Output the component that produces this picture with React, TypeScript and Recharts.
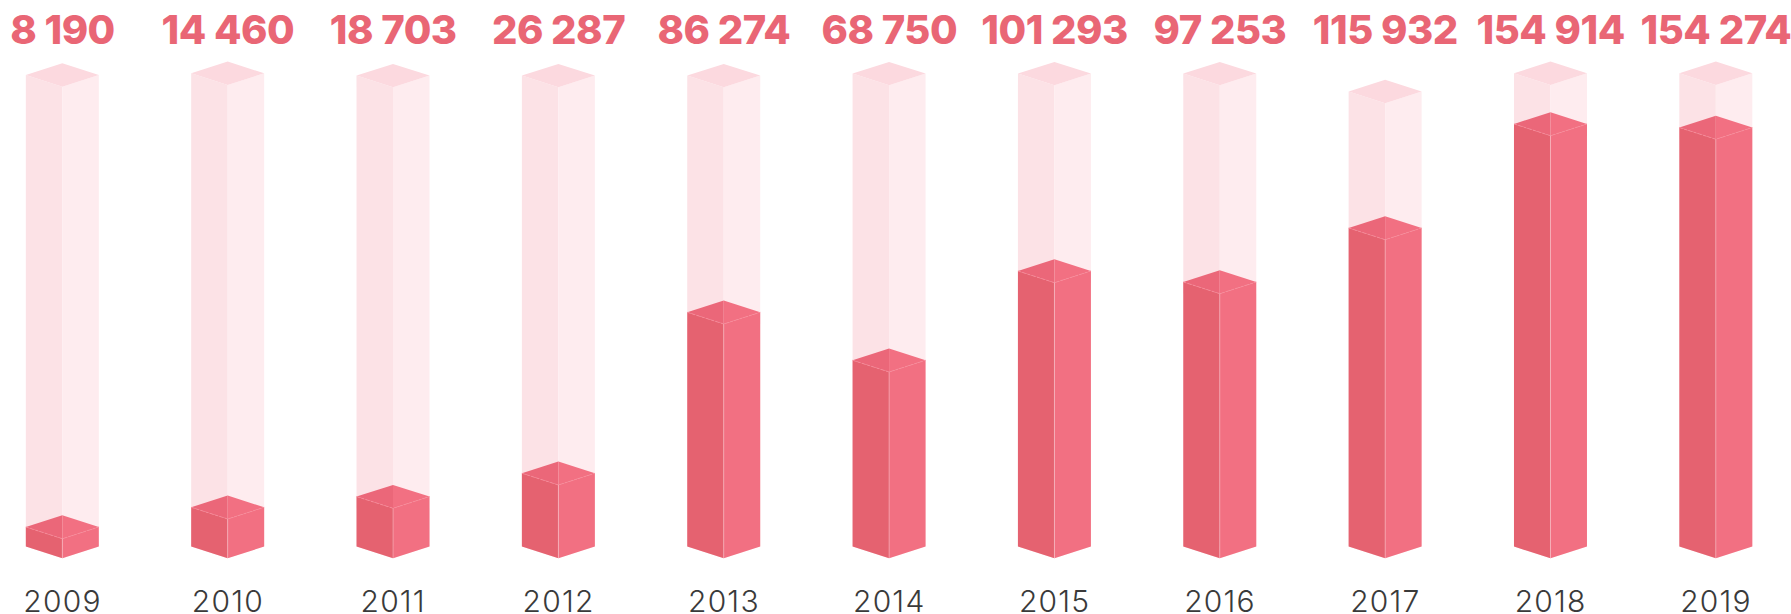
import React from "react";
import { ComposedChart, Bar, XAxis, YAxis } from "recharts";

const years = ["2009", "2010", "2011", "2012", "2013", "2014", "2015", "2016", "2017", "2018", "2019"];
const totals = [8190, 14460, 18703, 26287, 86274, 68750, 101293, 97253, 115932, 154914, 154274];
// Bar levels (on the chart's own 0-180000 scale)
const filledLevels = [7020, 14080, 17910, 26260, 83930, 66740, 98730, 94790, 114130, 151390, 150100];
const tubeLevels = [168950, 169550, 168720, 168720, 168720, 169440, 169440, 169440, 163000, 169550, 169550];

const rows = years.map((year, i) => ({
  year,
  total: totals[i],
  filled: filledLevels[i],
  tube: tubeLevels[i],
}));

const formatTotal = (v: number) => String(v).replace(/\B(?=(\d{3})+$)/g, " ");

const DEPTH = 11.7;
const pts = (...p: number[][]) => p.map((q) => q.join(",")).join(" ");

function TubeShape({ x, y, width, height }: any) {
  const cx = x + width / 2;
  const r = x + width;
  const b = y + height;
  return (
    <g>
      <polygon points={pts([x, y - DEPTH], [cx, y], [cx, b], [x, b - DEPTH])} fill="#FCE2E6" />
      <polygon points={pts([cx, y], [r, y - DEPTH], [r, b - DEPTH], [cx, b])} fill="#FEECEF" />
      <polygon points={pts([x, y - DEPTH], [cx, y - 2 * DEPTH], [r, y - DEPTH], [cx, y])} fill="#FCD9DF" />
    </g>
  );
}

function FilledShape({ x, y, width, height }: any) {
  const cx = x + width / 2;
  const r = x + width;
  const b = y + height;
  return (
    <g>
      <polygon points={pts([x, y - DEPTH], [cx, y], [cx, b], [x, b - DEPTH])} fill="#E56270" />
      <polygon points={pts([cx, y], [r, y - DEPTH], [r, b - DEPTH], [cx, b])} fill="#F27082" />
      <polygon points={pts([x, y - DEPTH], [cx, y - 2 * DEPTH], [cx, y])} fill="#EB6779" />
      <polygon points={pts([cx, y - 2 * DEPTH], [r, y - DEPTH], [cx, y])} fill="#F27082" />
      <polyline
        points={pts([x, y - DEPTH], [cx, y], [r, y - DEPTH])}
        fill="none"
        stroke="#F78C9B"
        strokeWidth={0.8}
        strokeDasharray="3 2"
      />
      <line x1={cx} y1={y} x2={cx} y2={b} stroke="#FFFFFF" strokeOpacity={0.3} strokeWidth={1} />
    </g>
  );
}

export default function App() {
  return (
    <div style={{ position: "absolute", left: 0, top: 0, width: 1791, height: 614, background: "#fff" }}>
      <ComposedChart
        width={1791}
        height={614}
        data={rows}
        margin={{ top: 0, right: 0, bottom: 0, left: 0 }}
        barSize={73}
        barGap={-73}
      >
        <XAxis
          xAxisId="years"
          dataKey="year"
          orientation="bottom"
          scale="point"
          padding={{ left: 62.5, right: 75 }}
          height={55.7}
          interval={0}
          axisLine={false}
          tickLine={false}
          tickMargin={26}
          tick={{ fontFamily: "Inter", fontWeight: 300, fontSize: 30, letterSpacing: 1.2, fill: "#3A3A3A" }}
        />
        <XAxis
          xAxisId="totals"
          dataKey="total"
          orientation="top"
          scale="point"
          padding={{ left: 62.5, right: 75 }}
          height={55.8}
          interval={0}
          axisLine={false}
          tickLine={false}
          tickMargin={6}
          tickFormatter={formatTotal}
          tick={{ fontFamily: "Inter", fontWeight: 800, fontSize: 40, letterSpacing: -0.5, fill: "#E96675" }}
        />
        <YAxis hide domain={[0, 180000]} />
        <Bar xAxisId="years" dataKey="tube" shape={TubeShape} isAnimationActive={false} />
        <Bar xAxisId="years" dataKey="filled" shape={FilledShape} isAnimationActive={false} />
      </ComposedChart>
    </div>
  );
}
